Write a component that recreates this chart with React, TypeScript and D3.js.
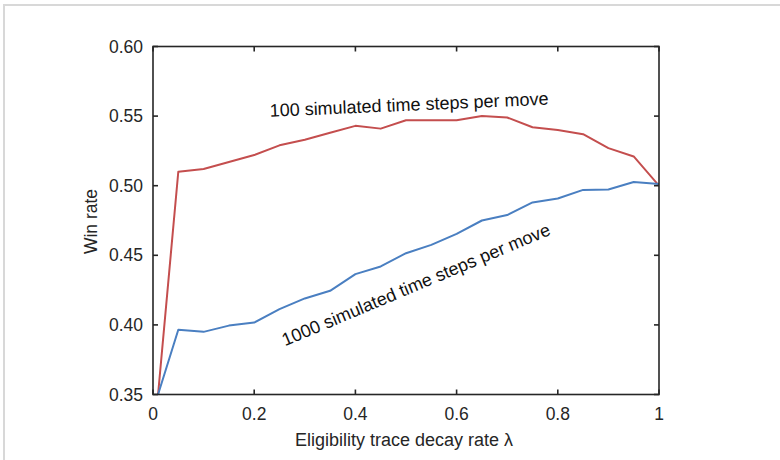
import React from "react";
import * as d3 from "d3";

// λ sample points and win rates for the two search budgets
const lambdas = [0.01, 0.05, 0.1, 0.15, 0.2, 0.25, 0.3, 0.35, 0.4, 0.45, 0.5, 0.55, 0.6, 0.65, 0.7, 0.75, 0.8, 0.85, 0.9, 0.95, 1.0];
const winRate100 = [0.35, 0.510, 0.512, 0.517, 0.522, 0.529, 0.533, 0.538, 0.543, 0.541, 0.547, 0.547, 0.547, 0.550, 0.549, 0.542, 0.540, 0.537, 0.527, 0.521, 0.500];
const winRate1000 = [0.35, 0.3965, 0.395, 0.3995, 0.4017, 0.4113, 0.419, 0.4245, 0.4365, 0.442, 0.4515, 0.4575, 0.4654, 0.475, 0.4789, 0.488, 0.4908, 0.497, 0.4973, 0.5026, 0.5012];

const xTicks = [0, 0.2, 0.4, 0.6, 0.8, 1];
const xTickLabels = ["0", "0.2", "0.4", "0.6", "0.8", "1"];
const yTicks = [0.35, 0.4, 0.45, 0.5, 0.55, 0.6];
const yTickLabels = ["0.35", "0.40", "0.45", "0.50", "0.55", "0.60"];

const seriesLabels = ["100 simulated time steps per move", "1000 simulated time steps per move"];

const W = 780;
const H = 460;
const left = 153;
const right = 659;
const top = 46.5;
const bottom = 394.5;
const FONT = "'Liberation Sans', Arial, Helvetica, sans-serif";
const FS = 17.5;
const FS_LABEL = 18;
const RED = "#c44e4e";
const BLUE = "#4a7fc1";
const AXIS = "#262626";

export default function App() {
  const x = d3.scaleLinear().domain([0, 1]).range([left, right]);
  const y = d3.scaleLinear().domain([0.35, 0.6]).range([bottom, top]);

  const line = d3
    .line<number>()
    .x((_, i) => x(lambdas[i]))
    .y((d) => y(d));

  const tickLen = 5;

  return (
    <svg
      width={W}
      height={H}
      style={{ position: "absolute", left: 0, top: 0, background: "#fff" }}
      fontFamily={FONT}
    >
      <rect x={0} y={0} width={W} height={H} fill="#fff" />
      {/* outer frame */}
      <line x1={3} y1={5} x2={W} y2={5} stroke="#d8d8d8" strokeWidth={2} />
      <line x1={4} y1={4} x2={4} y2={H} stroke="#d8d8d8" strokeWidth={2} />

      <defs>
        <clipPath id="plotClip">
          <rect x={left} y={top} width={right - left} height={bottom - top} />
        </clipPath>
      </defs>

      <g clipPath="url(#plotClip)">
        <path d={line(winRate100) || ""} fill="none" stroke={RED} strokeWidth={2} strokeLinejoin="round" />
        <path d={line(winRate1000) || ""} fill="none" stroke={BLUE} strokeWidth={2} strokeLinejoin="round" />
      </g>

      {/* axes box */}
      <rect x={left} y={top} width={right - left} height={bottom - top} fill="none" stroke={AXIS} strokeWidth={1.6} />

      {xTicks.map((t, i) => (
        <g key={"xt" + i}>
          <line x1={x(t)} x2={x(t)} y1={bottom} y2={bottom - tickLen} stroke={AXIS} strokeWidth={1.6} />
          <line x1={x(t)} x2={x(t)} y1={top} y2={top + tickLen} stroke={AXIS} strokeWidth={1.6} />
          <text x={x(t)} y={bottom + 25} textAnchor="middle" fontSize={FS} fill="#262626">
            {xTickLabels[i]}
          </text>
        </g>
      ))}

      {yTicks.map((t, i) => (
        <g key={"yt" + i}>
          <line x1={left} x2={left + tickLen} y1={y(t)} y2={y(t)} stroke={AXIS} strokeWidth={1.6} />
          <line x1={right} x2={right - tickLen} y1={y(t)} y2={y(t)} stroke={AXIS} strokeWidth={1.6} />
          <text x={left - 10} y={y(t) + 6} textAnchor="end" fontSize={FS} fill="#262626">
            {yTickLabels[i]}
          </text>
        </g>
      ))}

      <text x={(left + right) / 2 - 2} y={446} textAnchor="middle" fontSize={FS_LABEL} fill="#262626">
        Eligibility trace decay rate λ
      </text>
      <text
        transform={`translate(97, ${(top + bottom) / 2 + 1}) rotate(-90)`}
        textAnchor="middle"
        fontSize={FS}
        fill="#262626"
      >
        Win rate
      </text>

      <text
        transform={`translate(${x(0.231)}, ${y(0.5495)}) rotate(-2.5)`}
        fontSize={FS_LABEL}
        fill="#111"
      >
        {seriesLabels[0]}
      </text>
      <text
        transform={`translate(${x(0.261)}, ${y(0.3846)}) rotate(-22.8)`}
        fontSize={FS_LABEL}
        fill="#111"
      >
        {seriesLabels[1]}
      </text>
    </svg>
  );
}
